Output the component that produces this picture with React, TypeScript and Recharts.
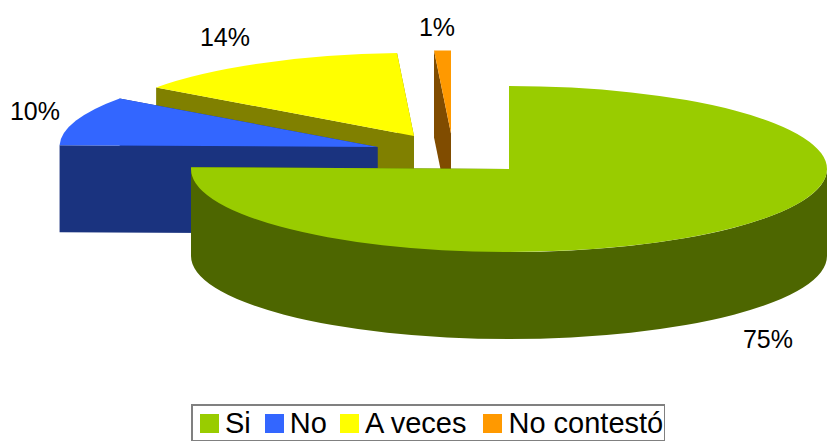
import React from 'react';
import { PieChart, Pie, Legend } from 'recharts';

const categories = ['Si', 'No', 'A veces', 'No contestó'];
const values = [75.35, 9.6, 14.2, 0.85];
const percentLabels = ['75%', '10%', '14%', '1%'];
const topColors = ['#99CC00', '#3366FF', '#FFFF00', '#FF9900'];
const sideColors = ['#4D6600', '#1A337F', '#808000', '#804C00'];
// explosion of each slice relative to the pie centre
const offsets = [
  [0, 0],
  [-131.5, -22],
  [-95, -33],
  [-58, -35.5],
];
// label centre relative to the pie centre
const labelPos = [
  [259, 170],
  [-474, -58],
  [-284, -132],
  [-72, -142],
];
const legendGaps = [14, 13, 17, 0];

const TILT = 83 / 318;
const DEPTH = 87;

// back-to-front so that the painter's order matches the 3D view
const tableOrder = [3, 2, 1, 0];
const data = tableOrder.map((i) => ({ name: categories[i], value: values[i], idx: i }));

const rad = Math.PI / 180;

function Slice3D(props: any) {
  const { cx, cy, outerRadius: r, startAngle, endAngle, payload } = props;
  const idx = payload.idx;
  const ax = cx + offsets[idx][0];
  const ay = cy + offsets[idx][1];
  const ry = r * TILT;
  const pt = (a: number, d = 0): [number, number] => [ax + r * Math.cos(a * rad), ay - ry * Math.sin(a * rad) + d];
  const [x1, y1] = pt(startAngle);
  const [x2, y2] = pt(endAngle);
  const large = endAngle - startAngle > 180 ? 1 : 0;
  const top = `M${ax},${ay} L${x1},${y1} A${r},${ry} 0 ${large} 0 ${x2},${y2} Z`;
  const cut1 = `M${ax},${ay} L${x1},${y1} L${x1},${y1 + DEPTH} L${ax},${ay + DEPTH} Z`;
  const cut2 = `M${ax},${ay} L${x2},${y2} L${x2},${y2 + DEPTH} L${ax},${ay + DEPTH} Z`;
  const a0 = Math.max(startAngle, 180);
  const a1 = Math.min(endAngle, 360);
  let wall = '';
  if (a0 < a1) {
    const [wx0, wy0] = pt(a0);
    const [wx1, wy1] = pt(a1);
    wall = `M${wx0},${wy0} A${r},${ry} 0 0 0 ${wx1},${wy1} L${wx1},${wy1 + DEPTH} A${r},${ry} 0 0 1 ${wx0},${wy0 + DEPTH} Z`;
  }
  return (
    <g>
      <path d={cut1} fill={sideColors[idx]} />
      <path d={cut2} fill={sideColors[idx]} />
      {wall && <path d={wall} fill={sideColors[idx]} />}
      <path d={top} fill={topColors[idx]} />
    </g>
  );
}

function SliceLabel(props: any) {
  const { cx, cy, payload } = props;
  const idx = payload.idx;
  return (
    <text
      x={cx + labelPos[idx][0]}
      y={cy + labelPos[idx][1]}
      textAnchor="middle"
      dominantBaseline="central"
      fontFamily="'Liberation Sans', Arial, sans-serif"
      fontSize={25}
      fill="#000"
    >
      {percentLabels[idx]}
    </text>
  );
}

function LegendBox() {
  return (
    <div
      style={{
        position: 'absolute',
        left: 191,
        top: 404,
        width: 474,
        height: 37,
        boxSizing: 'border-box',
        border: '2px solid #808080',
        borderRight: '1px solid #808080',
        borderBottom: '1px solid #808080',
        background: '#fff',
        display: 'flex',
        alignItems: 'center',
        paddingLeft: 7,
        fontFamily: "'Liberation Sans', Arial, sans-serif",
        fontSize: 29,
        color: '#000',
        whiteSpace: 'nowrap',
      }}
    >
      {categories.map((c, i) => (
        <span key={c} style={{ display: 'inline-flex', alignItems: 'center', marginRight: legendGaps[i] }}>
          <span style={{ display: 'inline-block', width: 19, height: 19, background: topColors[i], marginRight: 6 }} />
          {c}
        </span>
      ))}
    </div>
  );
}

export default function App() {
  return (
    <div style={{ position: 'absolute', left: 0, top: 0, width: 827, height: 442, background: '#fff' }}>
      <PieChart width={827} height={442} margin={{ top: 0, right: 0, bottom: 0, left: 0 }}>
        <Pie
          data={data}
          dataKey="value"
          nameKey="name"
          cx={509}
          cy={169}
          innerRadius={0}
          outerRadius={318}
          startAngle={90}
          endAngle={450}
          stroke="none"
          isAnimationActive={false}
          shape={Slice3D}
          label={SliceLabel}
          labelLine={false}
        />
        <Legend content={() => <LegendBox />} wrapperStyle={{ position: 'absolute', left: 0, top: 0, width: 0, height: 0 }} />
      </PieChart>
    </div>
  );
}
